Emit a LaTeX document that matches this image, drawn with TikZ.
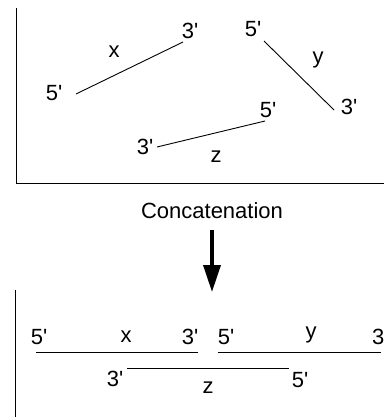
\documentclass[tikz,border=0pt]{standalone}
\usepackage{fontspec}
\setmainfont{Liberation Sans}[Ligatures=TeXOff]
\usetikzlibrary{arrows.meta}
\begin{document}
\begin{tikzpicture}[x=1pt,y=-1pt,
  lbl/.style={inner sep=0pt,font=\fontsize{22}{26}\selectfont},
  strand/.style={line width=0.9pt},
  frame/.style={line width=1pt}]
\useasboundingbox (0,0) rectangle (384,417);
% top frame
\coordinate (tf1) at (16,8);
\coordinate (tf2) at (16,183);
\coordinate (tf3) at (384,183);
\draw[frame] (tf1) -- (tf2) -- (tf3);
% strand x
\coordinate (x5) at (76,94);
\coordinate (x3) at (183,42);
\draw[strand] (x5) -- (x3);
\node[lbl] (lx5) at (54,93) {5'};
\node[lbl] (lx3) at (190,31) {3'};
\node[lbl] (lx) at (114,52) {x};
% strand y
\coordinate (y5) at (264,41);
\coordinate (y3) at (334,110);
\draw[strand] (y5) -- (y3);
\node[lbl] (ly5) at (253,29) {5'};
\node[lbl] (ly3) at (349,107) {3'};
\node[lbl] (ly) at (318,60) {y};
% strand z
\coordinate (z3) at (157,147);
\coordinate (z5) at (265,121);
\draw[strand] (z3) -- (z5);
\node[lbl] (lz3) at (145,147) {3'};
\node[lbl] (lz5) at (268,110) {5'};
\node[lbl] (lz) at (216,157) {z};
% concatenation
\node[lbl] (conc) at (212,211) {Concatenation};
\coordinate (tip) at (212,292);
\draw[line width=3.5pt,-{Triangle[length=27pt,width=17pt]}] (212,230) -- (tip);
% bottom frame
\coordinate (bf1) at (15,290);
\coordinate (bf2) at (15,417);
\draw[frame] (bf1) -- (bf2);
% bottom strands
\coordinate (bx5) at (36,352.7);
\coordinate (bx3) at (198,352.7);
\draw[strand] (bx5) -- (bx3);
\node[lbl] (lbx5) at (39,337) {5'};
\node[lbl] (lbx) at (126,337) {x};
\node[lbl] (lbx3) at (190,337) {3'};
\coordinate (by5) at (218,352.7);
\coordinate (by3) at (381,352.7);
\draw[strand] (by5) -- (by3);
\node[lbl] (lby5) at (226,337) {5'};
\node[lbl] (lby) at (311,335) {y};
\node[lbl,anchor=west] (lby3) at (372,337) {3'};
\coordinate (bz3) at (127,368.3);
\coordinate (bz5) at (289,368.3);
\draw[strand] (bz3) -- (bz5);
\node[lbl] (lbz3) at (115,379) {3'};
\node[lbl] (lbz5) at (300,380) {5'};
\node[lbl] (lbz) at (208,388) {z};
\end{tikzpicture}
\end{document}
